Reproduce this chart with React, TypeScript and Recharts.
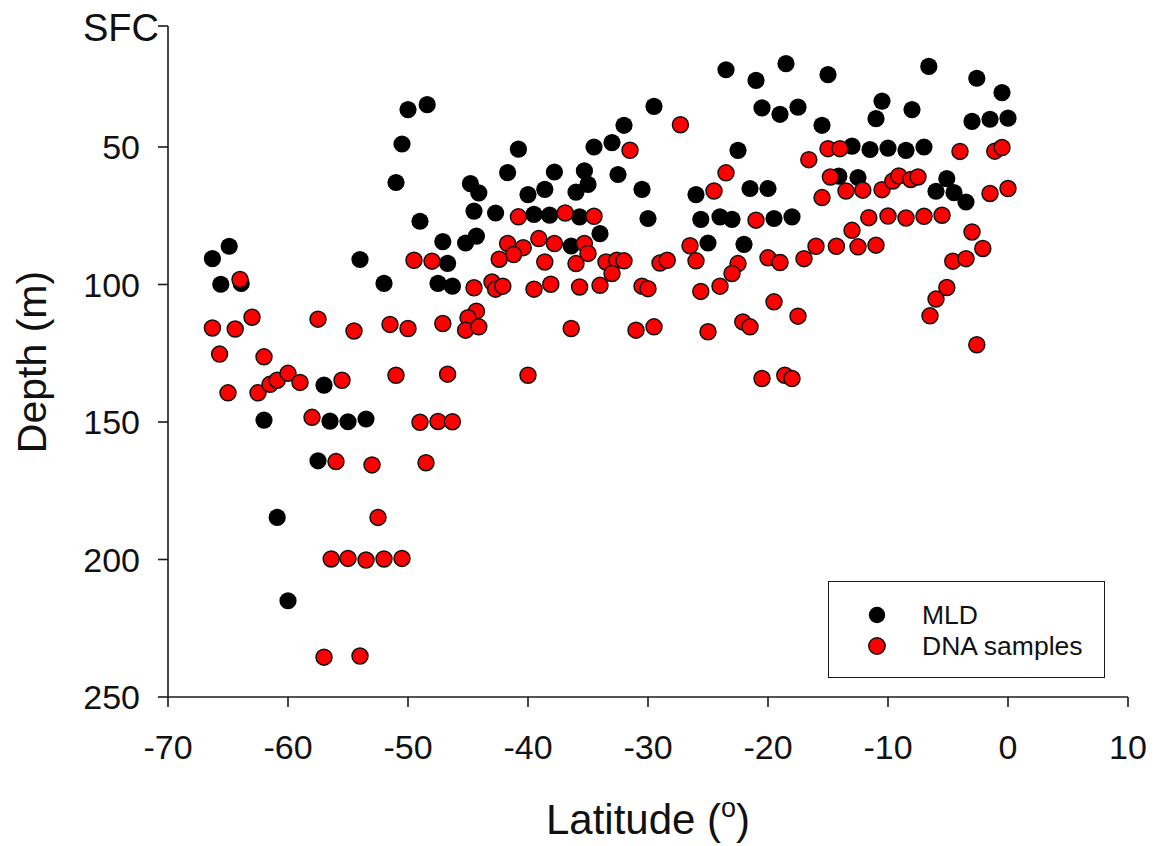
import React from 'react';
import {
  ScatterChart,
  Scatter,
  XAxis,
  YAxis,
  Legend,
} from 'recharts';

// [latitude, depth (m)]
const mldPoints: [number, number][] = [
  [-66.3, 90.6], [-64.9, 86.1], [-65.6, 99.9], [-63.9, 99.6], [-54.0, 90.9],
  [-52.0, 99.6], [-49.0, 77.0], [-47.1, 84.4], [-46.7, 92.3], [-47.5, 99.6],
  [-46.3, 100.6], [-45.2, 84.9], [-44.3, 82.4], [-57.0, 136.6], [-62.0, 149.3],
  [-56.5, 149.7], [-55.0, 149.9], [-53.5, 148.9], [-57.5, 164.1], [-60.9, 184.7],
  [-60.0, 215.0], [-50.0, 36.4], [-48.4, 34.6], [-50.5, 48.9], [-51.0, 62.9],
  [-40.8, 50.8], [-29.5, 35.2], [-32.0, 42.1], [-34.5, 50.0], [-33.0, 48.4],
  [-44.8, 63.3], [-44.1, 66.7], [-41.7, 59.3], [-37.8, 59.1], [-35.3, 58.7],
  [-35.0, 63.6], [-38.6, 65.4], [-40.0, 67.3], [-36.0, 66.4], [-32.5, 60.0],
  [-30.5, 65.4], [-26.0, 67.3], [-44.5, 73.3], [-42.7, 74.0], [-39.5, 74.5],
  [-38.2, 74.8], [-35.7, 75.4], [-30.0, 76.0], [-25.6, 76.3], [-34.0, 81.5],
  [-36.4, 86.0], [-23.5, 21.9], [-21.0, 25.8], [-18.5, 19.7], [-15.0, 23.7],
  [-6.6, 20.7], [-2.6, 25.0], [-20.5, 35.8], [-19.0, 38.1], [-17.5, 35.5],
  [-15.5, 42.1], [-10.5, 33.3], [-11.0, 39.7], [-8.0, 36.4], [-3.0, 40.7],
  [-0.5, 30.2], [-1.5, 39.9], [0.0, 39.5], [-22.5, 51.2], [-13.0, 49.7],
  [-11.5, 50.9], [-10.0, 50.4], [-8.5, 51.2], [-7.0, 50.0], [-14.1, 60.6],
  [-12.5, 61.1], [-5.1, 61.5], [-6.0, 66.1], [-4.5, 66.6], [-3.5, 70.0],
  [-21.5, 65.1], [-20.0, 65.1], [-24.0, 75.4], [-23.0, 76.3], [-19.5, 76.0],
  [-18.0, 75.4], [-25.0, 84.9], [-22.0, 85.4],
];

const dnaPoints: [number, number][] = [
  [-64.0, 98.2], [-66.3, 115.8], [-64.4, 116.2], [-63.0, 111.9], [-57.5, 112.6],
  [-54.5, 116.9], [-51.5, 114.5], [-50.0, 116.0], [-47.1, 114.2], [-65.7, 125.3],
  [-62.0, 126.3], [-65.0, 139.4], [-62.5, 139.4], [-61.5, 136.3], [-60.9, 134.8],
  [-60.0, 132.3], [-59.0, 135.6], [-55.5, 134.8], [-51.0, 133.0], [-46.7, 132.6],
  [-58.0, 148.3], [-49.0, 150.1], [-47.5, 149.8], [-46.3, 149.9], [-56.0, 164.4],
  [-53.0, 165.6], [-48.5, 164.8], [-52.5, 184.7], [-56.4, 199.8], [-55.0, 199.6],
  [-53.5, 200.2], [-52.0, 199.8], [-50.5, 199.6], [-57.0, 235.5], [-54.0, 235.1],
  [-27.3, 41.9], [-31.5, 51.2], [-40.8, 75.4], [-36.9, 74.0], [-34.5, 75.2],
  [-41.7, 85.1], [-40.4, 86.6], [-41.2, 89.1], [-42.4, 90.8], [-39.1, 83.3],
  [-37.8, 85.1], [-38.6, 91.8], [-36.0, 92.4], [-35.3, 85.1], [-35.0, 88.7],
  [-33.5, 91.8], [-32.6, 91.2], [-32.0, 91.4], [-33.0, 96.0], [-26.5, 85.9],
  [-29.0, 92.2], [-28.4, 91.2], [-26.0, 91.4], [-49.5, 91.2], [-48.0, 91.5],
  [-44.5, 101.2], [-43.0, 99.1], [-42.7, 101.7], [-42.1, 100.6], [-39.5, 101.7],
  [-38.1, 99.9], [-35.7, 100.9], [-34.0, 100.3], [-30.5, 100.6], [-30.0, 101.5],
  [-25.6, 102.5], [-44.3, 109.7], [-45.0, 112.1], [-45.2, 116.6], [-44.1, 115.4],
  [-36.4, 116.0], [-31.0, 116.6], [-29.5, 115.4], [-40.0, 133.0], [-15.0, 50.6],
  [-14.0, 50.6], [-4.0, 51.6], [-16.6, 54.6], [-23.5, 59.4], [-24.5, 66.0],
  [-14.8, 60.9], [-13.5, 66.0], [-12.1, 65.7], [-10.5, 65.5], [-9.6, 62.4],
  [-9.1, 60.5], [-8.1, 61.8], [-7.5, 60.9], [-15.5, 68.4], [-21.0, 76.6],
  [-11.6, 75.7], [-10.0, 75.1], [-8.5, 75.8], [-7.0, 75.2], [-5.5, 74.8],
  [-3.0, 80.9], [-13.0, 80.3], [-16.0, 86.1], [-14.3, 86.1], [-12.5, 86.3],
  [-11.0, 85.7], [-20.0, 90.3], [-19.0, 92.0], [-17.0, 90.6], [-22.5, 92.4],
  [-23.0, 96.0], [-4.6, 91.5], [-3.5, 90.6], [-2.1, 86.9], [-24.0, 100.6],
  [-19.5, 106.3], [-17.5, 111.5], [-5.1, 101.1], [-6.0, 105.3], [-6.5, 111.4],
  [-25.0, 117.2], [-22.1, 113.6], [-21.5, 115.4], [-2.6, 121.9], [-20.5, 134.2],
  [-18.6, 133.0], [-18.0, 134.2], [-1.1, 51.5], [-0.5, 50.2], [-1.5, 66.9],
  [0.0, 65.1],
];

const xTicks = [-70, -60, -50, -40, -30, -20, -10, 0, 10];
const yTicks = [6, 50, 100, 150, 200, 250];
const surfaceLabel = 'SFC';

const FONT = '"Liberation Sans", Arial, sans-serif';
const AXIS = '#1a1a1a';

const toRows = (pts: [number, number][]) => pts.map(([lat, depth]) => ({ lat, depth }));

const BlackDot = (props: any) => (
  <circle cx={props.cx} cy={props.cy} r={8.6} fill="#000" />
);
const RedDot = (props: any) => (
  <circle cx={props.cx} cy={props.cy} r={8} fill="#ff0000" stroke="#111" strokeWidth={1.5} />
);

const YTick = (props: any) => {
  const { x, y, payload } = props;
  const isTop = payload.value === yTicks[0];
  return (
    <text
      x={isTop ? x + 19 : x}
      y={isTop ? y + 1 : y}
      dy="0.36em"
      textAnchor="end"
      fontSize={isTop ? 38 : 34}
      fontFamily={FONT}
      fill="#111"
    >
      {isTop ? surfaceLabel : payload.value}
    </text>
  );
};

const LegendBox = () => (
  <div style={{ position: 'relative', width: '100%', height: '100%', fontFamily: FONT }}>
    {[
      { name: 'MLD', fill: '#000', stroke: 'none', top: 33 },
      { name: 'DNA samples', fill: '#ff0000', stroke: '#111', top: 64 },
    ].map((it) => (
      <div key={it.name}>
        <svg
          width={20}
          height={20}
          style={{ position: 'absolute', left: 38, top: it.top - 10 }}
        >
          <circle cx={10} cy={10} r={8.2} fill={it.fill} stroke={it.stroke} strokeWidth={1.5} />
        </svg>
        <span
          style={{
            position: 'absolute',
            left: 93,
            top: it.top - 16,
            fontSize: 26.5,
            lineHeight: '32px',
            color: '#111',
            whiteSpace: 'nowrap',
          }}
        >
          {it.name}
        </span>
      </div>
    ))}
  </div>
);

export default function App() {
  return (
    <div style={{ position: 'absolute', left: 0, top: 0, background: '#fff' }}>
      <ScatterChart
        width={1157}
        height={846}
        margin={{ top: 26, right: 29, bottom: 0, left: 0 }}
      >
        <XAxis
          dataKey="lat"
          type="number"
          domain={[-70, 10]}
          ticks={xTicks}
          allowDataOverflow
          height={149}
          tickSize={10}
          tickMargin={28}
          axisLine={{ stroke: AXIS, strokeWidth: 1.6 }}
          tickLine={{ stroke: AXIS, strokeWidth: 1.6 }}
          tick={{ fontSize: 34, fill: '#111', fontFamily: FONT }}
          label={{
            content: () => (
              <text x={648} y={834} textAnchor="middle" fontSize={42} fontFamily={FONT} fill="#111">
                Latitude (
                <tspan fontSize={27} dy={-17}>o</tspan>
                <tspan dy={17}>)</tspan>
              </text>
            ),
          }}
        />
        <XAxis
          xAxisId="top"
          orientation="top"
          type="number"
          domain={[-70, 10]}
          height={0}
          tick={false}
          tickLine={false}
          axisLine={{ stroke: AXIS, strokeWidth: 1.6 }}
        />
        <YAxis
          dataKey="depth"
          type="number"
          reversed
          domain={[6, 250]}
          ticks={yTicks}
          allowDataOverflow
          width={168}
          tickSize={10}
          tickMargin={18}
          axisLine={{ stroke: AXIS, strokeWidth: 1.6 }}
          tickLine={{ stroke: AXIS, strokeWidth: 1.6 }}
          tick={<YTick />}
          label={{
            content: () => (
              <text
                x={46}
                y={362}
                transform="rotate(-90 46 362)"
                textAnchor="middle"
                fontSize={41}
                fontFamily={FONT}
                fill="#111"
              >
                Depth (m)
              </text>
            ),
          }}
        />
        <YAxis
          yAxisId="right"
          orientation="right"
          type="number"
          domain={[6, 250]}
          width={0}
          tick={false}
          tickLine={false}
          axisLine={{ stroke: AXIS, strokeWidth: 1.6 }}
        />
        <Legend
          layout="vertical"
          align="center"
          verticalAlign="middle"
          content={<LegendBox />}
          wrapperStyle={{
            position: 'absolute',
            left: 828,
            top: 581,
            width: 277,
            height: 97,
            border: '1.6px solid #1a1a1a',
            boxSizing: 'border-box',
            background: '#fff',
          }}
        />
        <Scatter
          name="MLD"
          data={toRows(mldPoints)}
          shape={<BlackDot />}
          isAnimationActive={false}
        />
        <Scatter
          name="DNA samples"
          data={toRows(dnaPoints)}
          shape={<RedDot />}
          isAnimationActive={false}
        />
      </ScatterChart>
    </div>
  );
}
